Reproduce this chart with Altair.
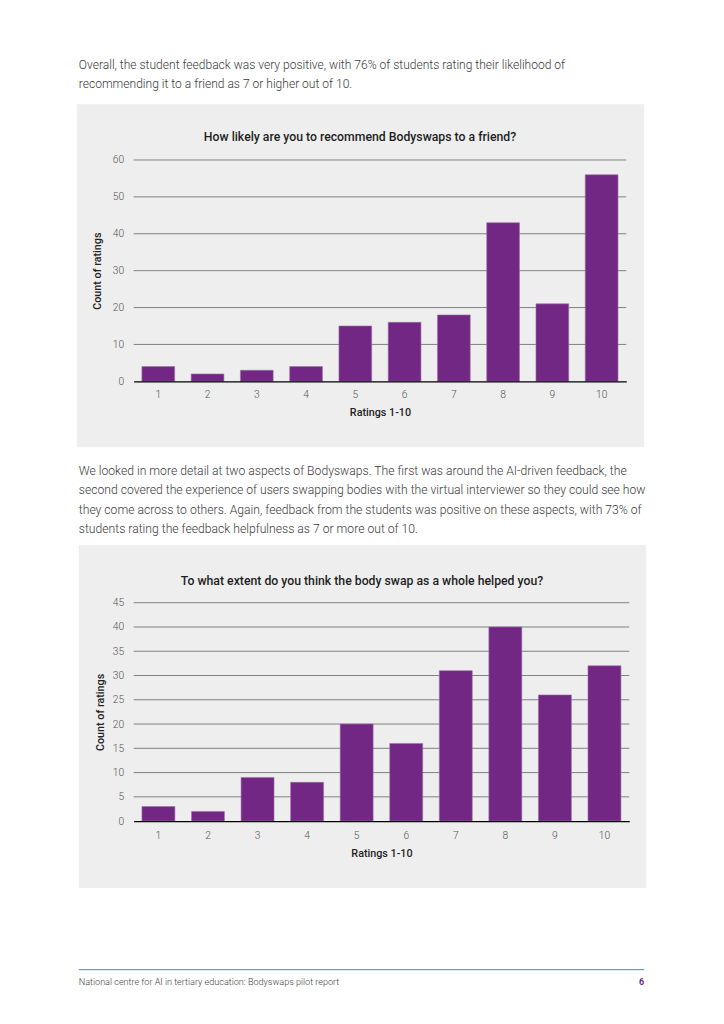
import altair as alt
import pandas as pd

# ---------------- data ----------------
ratings = [1, 2, 3, 4, 5, 6, 7, 8, 9, 10]
recommend_counts = [4, 2, 3, 4, 15, 16, 18, 43, 21, 56]
helped_counts = [3, 2, 9, 8, 20, 16, 31, 40, 26, 32]
recommend_ticks = [0, 10, 20, 30, 40, 50, 60]
helped_ticks = [0, 5, 10, 15, 20, 25, 30, 35, 40, 45]

title_1 = "How likely are you to recommend Bodyswaps to a friend?"
title_2 = "To what extent do you think the body swap as a whole helped you?"
x_title = "Ratings 1-10"
y_title = "Count of ratings"

para_1 = [
    "Overall, the student feedback was very positive, with 76% of students rating their likelihood of",
    "recommending it to a friend as 7 or higher out of 10.",
]
para_2 = [
    "We looked in more detail at two aspects of Bodyswaps. The first was around the AI-driven feedback, the",
    "second covered the experience of users swapping bodies with the virtual interviewer so they could see how",
    "they come across to others. Again, feedback from the students was positive on these aspects, with 73% of",
    "students rating the feedback helpfulness as 7 or more out of 10.",
]
footer_text = "National centre for AI in tertiary education: Bodyswaps pilot report"
page_number = "6"

# ---------------- style ----------------
PURPLE = "#712783"
PANEL = "#eeeeee"
FONT = "Roboto"
PAGE_L, PAGE_R = 8, 716   # page x-range covered by every slice
TEXT_ORIGIN = 133          # page x of text slices' origin


def one_row(**kw):
    return pd.DataFrame({k: [v] for k, v in kw.items()})


def spacer(left, top_rel, bottom_rel):
    return alt.Chart(one_row(a=0)).mark_rect(opacity=0).encode(
        x=alt.value(PAGE_L - left), x2=alt.value(PAGE_R - left),
        y=alt.value(top_rel), y2=alt.value(bottom_rel))


def panel(counts, ticks, title, left, top, width, height,
          panel_top, panel_bottom, title_y, ytitle_x, xlab_pad, xtitle_y):
    df = pd.DataFrame({"rating": ratings, "count": counts})
    grid_df = pd.DataFrame({"count": ticks[1:]})
    yscale = alt.Scale(domain=[ticks[0], ticks[-1]], nice=False)
    yaxis = alt.Axis(values=ticks, title=y_title, grid=False, domain=False,
                     ticks=False, labelPadding=10, labelFont=FONT,
                     labelFontSize=10.3, labelFontWeight=300, labelColor="#555555",
                     titleFont=FONT, titleFontSize=10.8, titleFontWeight=500,
                     titleColor="#222222", titleX=ytitle_x, titleY=height / 2,
                     titleAngle=270, titleBaseline="middle", zindex=1)

    bg = alt.Chart(one_row(a=0)).mark_rect(color=PANEL).encode(
        x=alt.value(77 - left), x2=alt.value(646 - left),
        y=alt.value(panel_top - top), y2=alt.value(panel_bottom - top))
    sp = spacer(left, panel_top - top, panel_bottom - top)
    grid = alt.Chart(grid_df).mark_rule(color="#666666", strokeWidth=0.8).encode(
        y=alt.Y("count:Q", scale=yscale, axis=yaxis, title=y_title))
    bars = alt.Chart(df).mark_bar(color=PURPLE, stroke="#9c72aa", strokeWidth=0.6).encode(
        x=alt.X("rating:O",
                scale=alt.Scale(paddingInner=0.335, paddingOuter=0.1675),
                axis=alt.Axis(title=x_title, labelAngle=0, ticks=False,
                              domainColor="#000000", domainWidth=1.2,
                              labelPadding=xlab_pad, labelFont=FONT, labelFontSize=10.3,
                              labelFontWeight=300, labelColor="#555555",
                              titleFont=FONT, titleFontSize=10.8, titleFontWeight=500,
                              titleColor="#222222", titleY=xtitle_y,
                              titleBaseline="middle", zindex=1)),
        y=alt.Y("count:Q", scale=yscale, axis=yaxis, title=y_title),
    )
    head = alt.Chart(one_row(t=title)).mark_text(
        font=FONT, fontSize=12.3, fontWeight=500, color="#1e1e1e",
        align="center", baseline="middle").encode(
        text="t:N", x=alt.value(361 - left), y=alt.value(title_y - top))
    return alt.layer(bg, sp, grid, bars, head).properties(width=width, height=height)


def text_block(lines, height, first_top, size):
    df = one_row(t="\n".join(lines))
    txt = alt.Chart(df).mark_text(
        font=FONT, fontSize=size, fontWeight=300, color="#3a3a3a",
        align="left", baseline="top", lineBreak="\n", lineHeight=19.3).encode(
        text="t:N", x=alt.value(78 - TEXT_ORIGIN), y=alt.value(first_top))
    return alt.layer(spacer(TEXT_ORIGIN, 0, height), txt).properties(
        width=PAGE_R - TEXT_ORIGIN, height=height)


# slice A: page y 8 -> 103
slice_a = text_block(para_1, 95, 50, 12.1)
# slice B: panel 1, page y 103 -> 447
slice_b = panel(recommend_counts, recommend_ticks, title_1, left=134, top=159,
                width=494, height=222, panel_top=103, panel_bottom=447,
                title_y=136, ytitle_x=-36, xlab_pad=8, xtitle_y=31)
# slice C: page y 447 -> 545
slice_c = text_block(para_2, 98, 18, 12.2)
# slice D: panel 2, page y 545 -> 889
slice_d = panel(helped_counts, helped_ticks, title_2, left=132, top=603,
                width=497, height=219, panel_top=545, panel_bottom=889,
                title_y=581, ytitle_x=-33, xlab_pad=9, xtitle_y=32)

# slice E: footer, page y 889 -> 1000
f_top = 889
foot_rule = alt.Chart(one_row(a=0)).mark_rule(color="#3f8fc4", strokeWidth=1).encode(
    x=alt.value(78 - TEXT_ORIGIN), x2=alt.value(645 - TEXT_ORIGIN), y=alt.value(971 - f_top))
foot_txt = alt.Chart(one_row(t=footer_text)).mark_text(
    font=FONT, fontSize=9.1, fontWeight=300, color="#444444",
    align="left", baseline="middle").encode(
    text="t:N", x=alt.value(78 - TEXT_ORIGIN), y=alt.value(983 - f_top))
foot_num = alt.Chart(one_row(t=page_number)).mark_text(
    font=FONT, fontSize=9, fontWeight=700, color=PURPLE,
    align="right", baseline="middle").encode(
    text="t:N", x=alt.value(645 - TEXT_ORIGIN), y=alt.value(983 - f_top))
slice_e = alt.layer(spacer(TEXT_ORIGIN, 0, 111), foot_rule, foot_txt, foot_num).properties(
    width=PAGE_R - TEXT_ORIGIN, height=111)

chart = alt.vconcat(slice_a, slice_b, slice_c, slice_d, slice_e, spacing=0).properties(
    padding=0, background="#ffffff"
).configure_view(strokeWidth=0)

chart.save("out.html", embed_options={"renderer": "svg", "actions": False})
